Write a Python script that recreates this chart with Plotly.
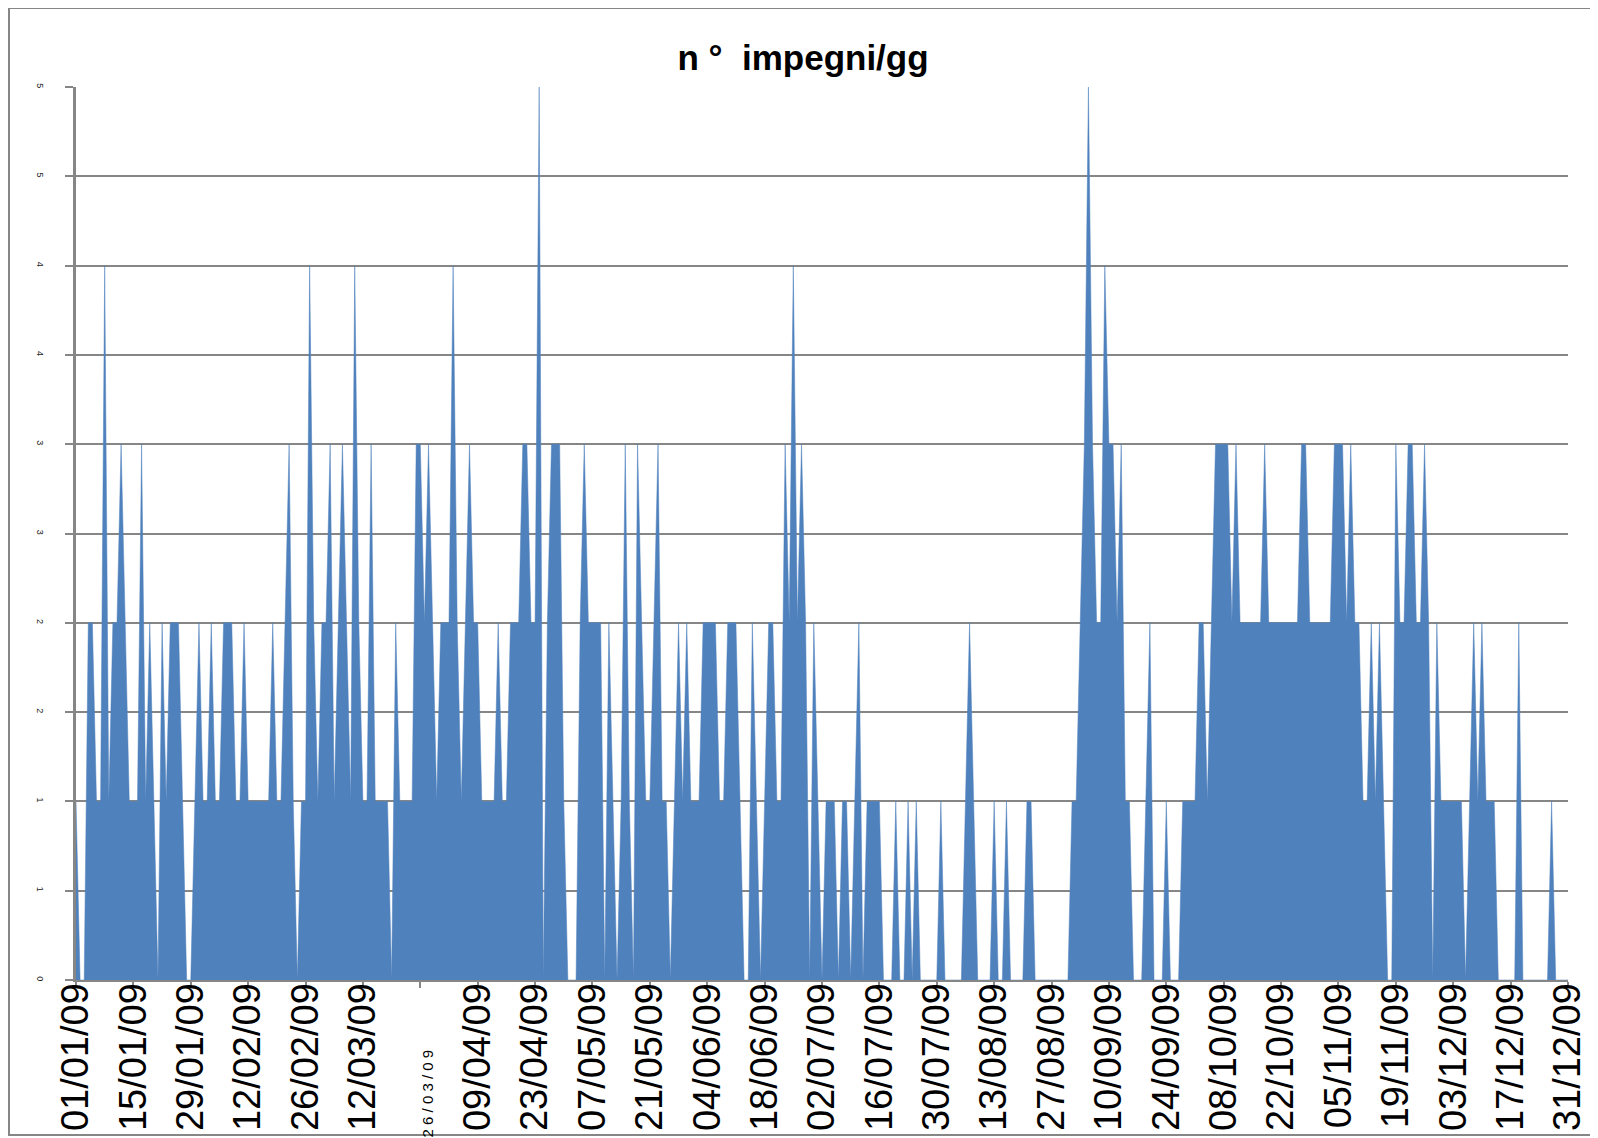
import plotly.graph_objects as go
import pandas as pd

# Daily values (n° impegni per day), one list per month of 2009
jan = [1,0,0,2,2,1,1,4,1,2,2,3,2,1,1,1,3,1,2,1,0,2,1,2,2,2,1,0,0,1,2]
feb = [1,1,2,1,1,2,2,2,1,1,2,1,1,1,1,1,1,2,1,1,2,3,1,0,1,1,4,2]
mar = [1,2,2,3,1,2,3,2,1,4,2,1,1,3,1,1,1,1,0,2,1,1,1,1,3,3,2,3,2,1,2]
apr = [2,2,4,2,1,2,3,2,2,1,1,1,1,2,1,1,2,2,2,3,3,2,2,5,0,2,3,3,3,1]
may = [0,0,0,2,3,2,2,2,2,0,2,1,0,1,3,1,0,3,2,1,1,2,3,1,1,0,1,2,1,2,1]
jun = [1,1,2,2,2,2,1,1,2,2,2,1,0,0,2,1,0,1,2,2,1,1,3,2,4,2,3,2,0,2]
jul = [1,0,1,1,1,0,1,1,0,1,2,0,1,1,1,1,0,0,0,1,0,0,1,0,1,0,0,0,0,0,1]
aug = [0,0,0,0,0,1,2,1,0,0,0,0,1,0,0,1,0,0,0,0,1,1,0,0,0,0,0,0,0,0,0]
sep = [1,1,2,3,5,3,2,2,4,3,3,2,3,1,1,0,0,0,1,2,0,0,0,1,0,0,0,1,1,1]
oct_ = [1,2,2,1,2,3,3,3,3,2,3,2,2,2,2,2,2,3,2,2,2,2,2,2,2,2,3,3,2,2,2]
nov = [2,2,2,3,3,3,2,3,2,2,1,1,2,1,2,1,0,0,3,2,2,3,3,2,2,3,2,0,2,1]
dec = [1,1,1,1,1,0,1,2,1,2,1,1,1,0,0,0,0,0,2,0,0,0,0,0,0,0,1,0,0,0,0]

values = jan + feb + mar + apr + may + jun + jul + aug + sep + oct_ + nov + dec
dates = pd.date_range("2009-01-01", "2009-12-31", freq="D")

tick_dates = pd.date_range("2009-01-01", periods=27, freq="14D")
tick_labels = ["01/01/09", "15/01/09", "29/01/09", "12/02/09", "26/02/09", "12/03/09",
               "26/03/09", "09/04/09", "23/04/09", "07/05/09", "21/05/09", "04/06/09",
               "18/06/09", "02/07/09", "16/07/09", "30/07/09", "13/08/09", "27/08/09",
               "10/09/09", "24/09/09", "08/10/09", "22/10/09", "05/11/09", "19/11/09",
               "03/12/09", "17/12/09", "31/12/09"]
# the reference renders this one label small and letter-spaced
tick_text = [("<span style='font-size:15px'>2 6 / 0 3 / 0 9" + "\u00a0" * 16 + "</span>")
             if t == "26/03/09" else t for t in tick_labels]

y_ticks = [0, 0.5, 1, 1.5, 2, 2.5, 3, 3.5, 4, 4.5, 5]
y_tick_labels = ["0", "1", "1", "2", "2", "3", "3", "4", "4", "5", "5"]

title_text = "n °\u00a0\u00a0impegni/gg"

BLUE = "#4F81BD"
GREY = "#868686"
# the page body has an 8px default margin, so the figure is sized to fill the
# rest of the 1598x1138 window
OFF = 8
W, H = 1598 - OFF, 1138 - OFF
L, R, T, B = 76 - OFF, 30, 87 - OFF, 158
pw, ph = W - L - R, H - T - B

fig = go.Figure()
fig.add_trace(go.Scatter(
    x=dates, y=values, mode="lines", fill="tozeroy",
    fillcolor=BLUE, line=dict(color=BLUE, width=0.5),
    hoverinfo="x+y", showlegend=False,
))

def px_x(p):
    return (p - L) / pw

def px_y(p):
    return (H - B - p) / ph

fig.add_shape(type="rect", xref="paper", yref="paper",
              x0=px_x(1), x1=px_x(1588), y0=px_y(1127), y1=px_y(0),
              line=dict(color=GREY, width=2), fillcolor="rgba(0,0,0,0)", layer="below")

fig.update_layout(
    width=W, height=H,
    margin=dict(l=L, r=R, t=T, b=B, pad=0, autoexpand=False),
    paper_bgcolor="white", plot_bgcolor="white",
    title=dict(text="<b>" + title_text + "</b>", xref="container", yref="container",
               x=795 / W, y=1 - 50 / H, xanchor="center", yanchor="middle",
               font=dict(family="Liberation Sans Narrow, Liberation Sans, Arial", size=35, color="black")),
    font=dict(family="Liberation Sans, Arial", color="black"),
    xaxis=dict(
        range=[dates[0], dates[-1]],
        tickvals=list(tick_dates), ticktext=tick_text,
        tickangle=-90, tickfont=dict(size=38, color="black", family="Liberation Sans, Arial"),
        showgrid=False, zeroline=False, automargin=False,
        showline=True, linecolor=GREY, linewidth=2,
        ticks="outside", ticklen=6, tickcolor=GREY, tickwidth=2,
        ticklabelstandoff=-20,
    ),
    yaxis=dict(
        range=[0, 5],
        tickvals=y_ticks, ticktext=y_tick_labels,
        tickangle=90, tickfont=dict(size=9, color="#222222"),
        showgrid=True, gridcolor=GREY, gridwidth=2, zeroline=False, automargin=False,
        showline=True, linecolor=GREY, linewidth=3,
        ticks="outside", ticklen=8, tickcolor=GREY, tickwidth=2,
        ticklabelstandoff=17,
    ),
)

fig.write_html("out.html")
